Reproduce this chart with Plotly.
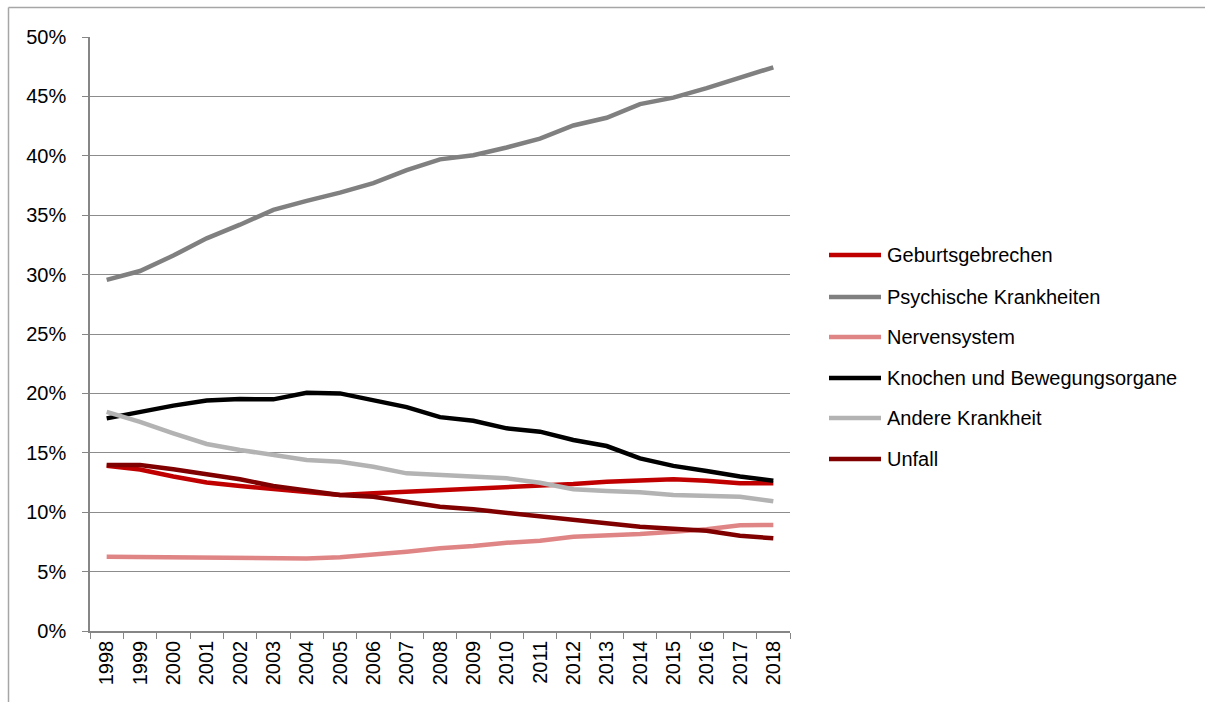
import plotly.graph_objects as go

years = [str(y) for y in range(1998, 2019)]

geburtsgebrechen = [13.9, 13.6, 13.0, 12.5, 12.2, 11.95, 11.7, 11.45, 11.6, 11.73, 11.85,
                    11.93, 12.15, 12.25, 12.37, 12.57, 12.63, 12.77, 12.65, 12.43, 12.43]
psychische = [29.55, 30.3, 31.6, 33.05, 34.2, 35.45, 36.2, 36.9, 37.7, 38.8, 39.7,
              40.05, 40.7, 41.45, 42.55, 43.2, 44.35, 44.9, 45.7, 46.6, 47.45]
nervensystem = [6.25, 6.22, 6.17, 6.15, 6.12, 6.1, 6.1, 6.2, 6.4, 6.68, 6.97,
                7.15, 7.43, 7.6, 7.93, 8.0, 8.16, 8.36, 8.56, 8.9, 8.92]
knochen = [17.9, 18.45, 18.97, 19.4, 19.53, 19.5, 20.05, 20.0, 19.45, 18.85, 18.0,
           17.7, 17.06, 16.78, 16.08, 15.57, 14.53, 13.9, 13.47, 13.0, 12.65]
andere = [18.45, 17.6, 16.64, 15.74, 15.24, 14.81, 14.39, 14.25, 13.83, 13.27, 13.13,
          13.0, 12.85, 12.48, 11.93, 11.78, 11.68, 11.45, 11.39, 11.3, 10.92]
unfall = [13.97, 13.97, 13.61, 13.19, 12.77, 12.2, 11.78, 11.45, 11.3, 10.88, 10.46,
          10.24, 9.96, 9.62, 9.4, 9.06, 8.78, 8.61, 8.44, 8.02, 7.8]

series_names = ["Geburtsgebrechen", "Psychische Krankheiten", "Nervensystem",
                "Knochen und Bewegungsorgane", "Andere Krankheit", "Unfall"]
series_values = [geburtsgebrechen, psychische, nervensystem, knochen, andere, unfall]
series_colors = ["#C00000", "#808080", "#E08585", "#000000", "#B3B3B3", "#800000"]

font_family = "Liberation Sans, Arial, sans-serif"
FS = 20

W, H = 1205, 702
ML, MR, MT, MB = 90, 415, 37, 71
pw, ph = W - ML - MR, H - MT - MB


def px_x(x):
    return (x - ML) / pw


def px_y(y):
    return (H - MB - y) / ph


fig = go.Figure()
for name, vals, color in zip(series_names, series_values, series_colors):
    fig.add_trace(go.Scatter(
        x=years, y=[v / 100 for v in vals], name=name, mode="lines",
        line=dict(color=color, width=4.5), showlegend=False,
    ))

fig.update_layout(
    width=W, height=H,
    margin=dict(l=ML, r=MR, t=MT, b=MB),
    paper_bgcolor="white", plot_bgcolor="white",
    font=dict(family=font_family, size=FS, color="black"),
    showlegend=False,
    xaxis=dict(
        type="category", tickson="boundaries",
        ticks="outside", ticklen=6, tickcolor="#868686",
        showline=True, linecolor="#868686", linewidth=1.5,
        showgrid=False, tickangle=-90,
        tickfont=dict(family=font_family, size=FS, color="black"),
        range=[-0.5, 20.5],
    ),
    yaxis=dict(
        range=[0, 0.5], dtick=0.05, tickformat=".0%",
        ticks="outside", ticklen=6, tickcolor="#868686",
        showline=True, linecolor="#868686", linewidth=1.5,
        showgrid=True, gridcolor="#8C8C8C", gridwidth=1.3,
        zeroline=False, ticklabelstandoff=12,
        tickfont=dict(family=font_family, size=FS, color="black"),
    ),
)

# legend drawn manually (long line samples as in the original)
legend_y = [255, 297, 337, 378, 418, 459]
for name, color, ly in zip(series_names, series_colors, legend_y):
    fig.add_shape(type="line", xref="paper", yref="paper",
                  x0=px_x(829), x1=px_x(881), y0=px_y(ly), y1=px_y(ly),
                  line=dict(color=color, width=4.5))
    fig.add_annotation(xref="paper", yref="paper", x=px_x(885), y=px_y(ly),
                       text=name, showarrow=False, xanchor="left", yanchor="middle",
                       font=dict(family=font_family, size=FS, color="black"))

# chart-area border (left and top edges)
fig.add_shape(type="line", xref="paper", yref="paper", x0=px_x(8.5), x1=px_x(8.5),
              y0=px_y(H), y1=px_y(7.5), line=dict(color="#A6A6A6", width=1.5))
fig.add_shape(type="line", xref="paper", yref="paper", x0=px_x(8.5), x1=px_x(W),
              y0=px_y(7.5), y1=px_y(7.5), line=dict(color="#A6A6A6", width=1.5))

fig.write_html("out.html", config={"displayModeBar": False},
               post_script="document.body.style.margin='0';")
